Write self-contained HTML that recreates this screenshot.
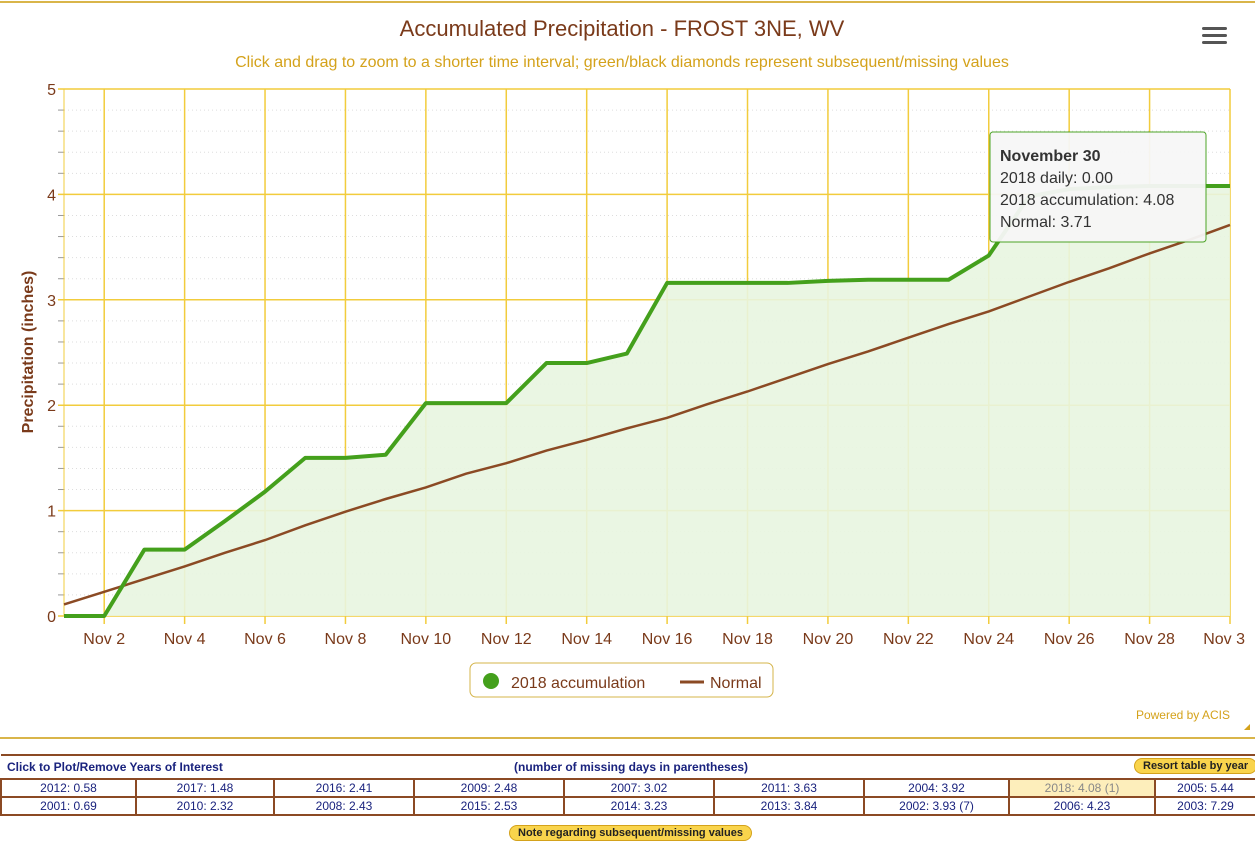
<!DOCTYPE html>
<html><head><meta charset="utf-8"><style>
body{margin:0;width:1255px;height:859px;background:#fff;font-family:"Liberation Sans",sans-serif;position:relative;overflow:hidden}
svg{position:absolute;left:0;top:0}
table{position:absolute;left:0;top:754px;width:1255px;border-collapse:collapse;font-size:12px;color:#1a237e;table-layout:fixed}
td{border:2px solid #8b4a24;text-align:center;height:16px;padding:0;white-space:nowrap;overflow:hidden}
.hdr td{border:none;border-top:2px solid #8b4a24;height:22px;font-weight:bold;overflow:visible}
.btn{position:absolute;background:#f9d44c;border:1px solid #d4a21b;border-radius:10px;font-size:11px;font-weight:bold;color:#222;padding:1px 8px;white-space:nowrap}
</style></head><body>
<svg width="1255" height="740" font-family="Liberation Sans, sans-serif">
<line x1="0" y1="2" x2="1255" y2="2" stroke="#d9b54a" stroke-width="2"/>
<text x="622" y="36" text-anchor="middle" font-size="22" fill="#7a3a1a">Accumulated Precipitation - FROST 3NE, WV</text>
<text x="622" y="67" text-anchor="middle" font-size="16" fill="#d4a21b">Click and drag to zoom to a shorter time interval; green/black diamonds represent subsequent/missing values</text>
<g fill="#555"><rect x="1202" y="27" width="25" height="3" rx="1.5"/><rect x="1202" y="34" width="25" height="3" rx="1.5"/><rect x="1202" y="41" width="25" height="3" rx="1.5"/></g>
<g id="grid"></g>
<polygon id="area" fill="#e8f5e0" opacity="0.9"/>
<polyline id="norm" fill="none" stroke="#8b4a24" stroke-width="2.5"/>
<polyline id="acc" fill="none" stroke="#44a01c" stroke-width="4" stroke-linejoin="round"/>
<g id="labels" font-size="16" fill="#7a3a1a"></g>
<text transform="translate(33,352) rotate(-90)" text-anchor="middle" font-size="16" font-weight="bold" fill="#7a3a1a">Precipitation (inches)</text>
<rect x="470" y="663" width="303" height="34" rx="6" fill="#fff" stroke="#d4b44a"/>
<circle cx="491" cy="681" r="8" fill="#44a01c"/>
<text x="511" y="688" font-size="16" fill="#7a3a1a">2018 accumulation</text>
<line x1="680" y1="682" x2="704" y2="682" stroke="#8b4a24" stroke-width="3"/>
<text x="710" y="688" font-size="16" fill="#7a3a1a">Normal</text>
<text x="1230" y="719" text-anchor="end" font-size="12" fill="#d4a21b">Powered by ACIS</text>
<polygon points="1244,730 1250,724 1250,730" fill="#d4a21b"/>
<line x1="0" y1="738" x2="1255" y2="738" stroke="#d9b54a" stroke-width="2"/>
<rect x="990" y="132" width="216" height="110" rx="3" fill="#f7f7f7" stroke="#44a01c" opacity="0.95"/>
<text font-size="16" fill="#333"><tspan x="1000" y="161" font-weight="bold">November 30</tspan><tspan x="1000" y="183">2018 daily: 0.00</tspan><tspan x="1000" y="205">2018 accumulation: 4.08</tspan><tspan x="1000" y="227">Normal: 3.71</tspan></text>
</svg>
<table>
<colgroup><col style="width:135px"><col style="width:138px"><col style="width:140px"><col style="width:150px"><col style="width:150px"><col style="width:150px"><col style="width:145px"><col style="width:146px"><col style="width:101px"></colgroup>
<tr class="hdr"><td colspan="3" style="text-align:left;padding-left:6px">Click to Plot/Remove Years of Interest</td><td colspan="4" style="text-align:left;padding-left:100px">(number of missing days in parentheses)</td><td colspan="2"></td></tr>
<tr><td>2012: 0.58</td><td>2017: 1.48</td><td>2016: 2.41</td><td>2009: 2.48</td><td>2007: 3.02</td><td>2011: 3.63</td><td>2004: 3.92</td><td style="background:#fdeebb;color:#888">2018: 4.08 (1)</td><td>2005: 5.44</td></tr>
<tr><td>2001: 0.69</td><td>2010: 2.32</td><td>2008: 2.43</td><td>2015: 2.53</td><td>2014: 3.23</td><td>2013: 3.84</td><td>2002: 3.93 (7)</td><td>2006: 4.23</td><td>2003: 7.29</td></tr>
</table>
<div class="btn" style="left:1134px;top:758px">Resort table by year</div>
<div class="btn" style="left:509px;top:825px">Note regarding subsequent/missing values</div>
<script>
var X=d=>64+(d-1)*40.207,Y=v=>616-105.4*v,ns="http://www.w3.org/2000/svg";
function el(t,a,p){var e=document.createElementNS(ns,t);for(var k in a)e.setAttribute(k,a[k]);if(p)document.getElementById(p).appendChild(e);return e}
for(var v=0;v<5;v+=0.2){var y=Y(v);if(Math.abs(v-Math.round(v))>0.01){el('line',{x1:64,x2:1230,y1:y,y2:y,stroke:'#ddd','stroke-dasharray':'1,3'},'grid');el('line',{x1:58,x2:64,y1:y,y2:y,stroke:'#999'},'grid')}}
for(var i=0;i<=5;i++){var y=Y(i);el('line',{x1:58,x2:1230,y1:y,y2:y,stroke:'#f2cc3c','stroke-width':1.5},'grid');var t=el('text',{x:56,y:y+6,'text-anchor':'end'},'labels');t.textContent=i}
for(var d=2;d<=30;d+=2){var x=X(d);el('line',{x1:x,x2:x,y1:89,y2:624,stroke:'#f2cc3c','stroke-width':1.5},'grid');var t=el('text',{x:d==30?1245:x,y:644,'text-anchor':d==30?'end':'middle'},'labels');t.textContent='Nov '+(d==30?'3':d)}
el('line',{x1:64,x2:64,y1:89,y2:616,stroke:'#f2cc3c'},'grid');
var a=[0,0,0.63,0.63,0.9,1.18,1.5,1.5,1.53,2.02,2.02,2.02,2.4,2.4,2.49,3.16,3.16,3.16,3.16,3.18,3.19,3.19,3.19,3.42,3.98,4.05,4.07,4.08,4.08,4.08];
var n=[0.11,0.23,0.35,0.47,0.6,0.72,0.86,0.99,1.11,1.22,1.35,1.45,1.57,1.67,1.78,1.88,2.01,2.13,2.26,2.39,2.51,2.64,2.77,2.89,3.03,3.17,3.3,3.44,3.57,3.71];
var pa=a.map((v,i)=>X(i+1)+','+Y(v)).join(' ');
document.getElementById('acc').setAttribute('points',pa);
document.getElementById('area').setAttribute('points',pa+' 1230,616 64,616');
document.getElementById('norm').setAttribute('points',n.map((v,i)=>X(i+1)+','+Y(v)).join(' '));
</script>
</body></html>
